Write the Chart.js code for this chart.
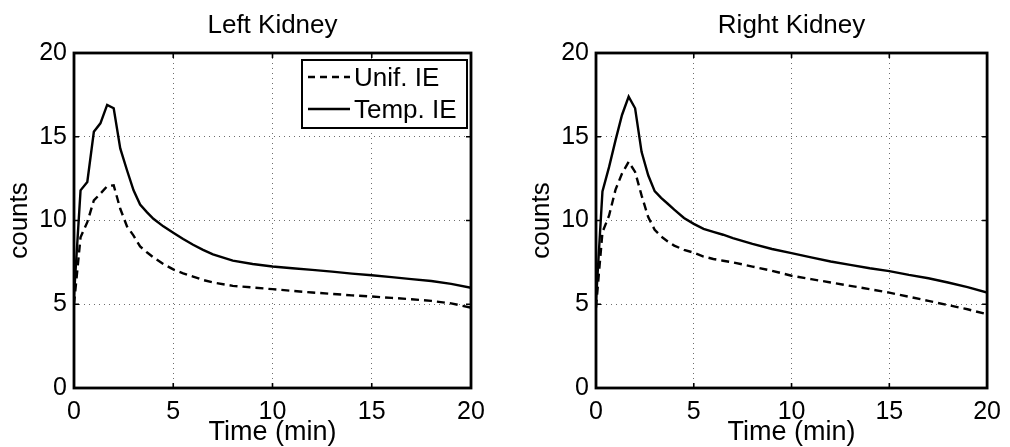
<!DOCTYPE html>
<html>
<head>
<meta charset="utf-8">
<script src="https://cdn.jsdelivr.net/npm/chart.js@4.4.1/dist/chart.umd.min.js"></script>
<style>
  html, body { margin: 0; padding: 0; background: #fff; width: 1010px; height: 447px; overflow: hidden; }
  .panel { position: absolute; top: 0; }
  canvas { display: block; }
</style>
</head>
<body>
<div class="panel" style="left:0px"><canvas id="leftKidney" width="505" height="447"></canvas></div>
<div class="panel" style="left:522px"><canvas id="rightKidney" width="488" height="447"></canvas></div>
<script>
// Frame mid-times (min)
const timeMin = [0, 0.33, 0.67, 1, 1.33, 1.67, 2, 2.33, 2.67, 3, 3.33, 3.67, 4, 4.5, 5, 5.5, 6, 6.5, 7, 8, 9, 10, 11, 12, 13, 14, 15, 16, 17, 18, 19, 20];

// Left kidney time-activity curves (counts)
const leftUnif = [5.0, 9.0, 9.9, 11.2, 11.6, 12.05, 12.1, 10.7, 9.65, 9.1, 8.45, 8.1, 7.8, 7.4, 7.08, 6.85, 6.65, 6.45, 6.3, 6.1, 6.0, 5.9, 5.8, 5.7, 5.62, 5.53, 5.46, 5.38, 5.3, 5.2, 5.05, 4.8];
const leftTemp = [5.5, 11.8, 12.3, 15.3, 15.8, 16.9, 16.7, 14.3, 13.0, 11.8, 10.95, 10.5, 10.1, 9.65, 9.27, 8.9, 8.55, 8.25, 7.98, 7.6, 7.4, 7.25, 7.15, 7.05, 6.95, 6.83, 6.73, 6.62, 6.5, 6.39, 6.22, 5.98];

// Right kidney time-activity curves (counts)
const rightUnif = [4.8, 9.3, 10.3, 11.85, 12.8, 13.5, 12.9, 11.5, 10.2, 9.45, 9.05, 8.75, 8.5, 8.25, 8.08, 7.85, 7.7, 7.6, 7.5, 7.25, 7.0, 6.7, 6.5, 6.3, 6.1, 5.9, 5.69, 5.45, 5.2, 4.95, 4.7, 4.4];
const rightTemp = [5.2, 11.74, 13.2, 14.8, 16.3, 17.4, 16.7, 14.1, 12.7, 11.75, 11.35, 11.0, 10.65, 10.15, 9.8, 9.5, 9.32, 9.15, 8.95, 8.6, 8.3, 8.05, 7.8, 7.55, 7.35, 7.15, 6.98, 6.75, 6.55, 6.3, 6.02, 5.7];

const seriesNames = ['Unif. IE', 'Temp. IE'];
const panelTitles = ['Left Kidney', 'Right Kidney'];
const xAxisTitle = 'Time (min)';
const yAxisTitle = 'counts';
const axisMin = 0;
const axisMax = 20;
const tickStep = 5;

const FONT = '"Liberation Sans", Arial, Helvetica, sans-serif';
Chart.defaults.font.family = FONT;
Chart.defaults.color = '#000';

const toPoints = (vals) => timeMin.map((t, i) => ({ x: t, y: vals[i] }));
const gridColor = (ctx) => {
  const v = ctx.tick ? ctx.tick.value : null;
  return (v === axisMin || v === axisMax) ? 'rgba(0,0,0,0)' : '#6e6e6e';
};

// Box frame with inward tick marks on all four sides
const framePlugin = {
  id: 'frame',
  afterDatasetsDraw(chart) {
    const { ctx, chartArea: a } = chart;
    const xs = chart.scales.x, ys = chart.scales.y;
    ctx.save();
    ctx.strokeStyle = '#000';
    ctx.lineWidth = 1.6;
    const len = 5;
    xs.ticks.forEach(t => {
      const p = xs.getPixelForValue(t.value);
      ctx.beginPath();
      ctx.moveTo(p, a.bottom); ctx.lineTo(p, a.bottom - len);
      ctx.moveTo(p, a.top); ctx.lineTo(p, a.top + len);
      ctx.stroke();
    });
    ys.ticks.forEach(t => {
      const p = ys.getPixelForValue(t.value);
      ctx.beginPath();
      ctx.moveTo(a.left, p); ctx.lineTo(a.left + len, p);
      ctx.moveTo(a.right, p); ctx.lineTo(a.right - len, p);
      ctx.stroke();
    });
    ctx.lineWidth = 2.8;
    ctx.strokeRect(a.left, a.top, a.right - a.left, a.bottom - a.top);
    ctx.restore();
  }
};

// Boxed legend in the upper-right corner of the plot
const boxLegendPlugin = {
  id: 'boxLegend',
  afterDraw(chart, args, opts) {
    if (!opts || !opts.show) return;
    const { ctx, chartArea: a } = chart;
    const w = 165, h = 68;
    const x0 = a.right - 4 - w, y0 = a.top + 7;
    ctx.save();
    ctx.fillStyle = '#fff';
    ctx.fillRect(x0, y0, w, h);
    ctx.strokeStyle = '#000';
    ctx.lineWidth = 2;
    ctx.strokeRect(x0, y0, w, h);
    ctx.font = '26px ' + FONT;
    ctx.fillStyle = '#000';
    ctx.textBaseline = 'middle';
    ctx.textAlign = 'left';
    chart.data.datasets.forEach((ds, i) => {
      const cy = y0 + 18 + i * 32;
      ctx.beginPath();
      ctx.lineWidth = ds.borderWidth;
      ctx.setLineDash(ds.borderDash && ds.borderDash.length ? [7, 5] : []);
      ctx.moveTo(x0 + 6, cy - 1);
      ctx.lineTo(x0 + 48, cy - 1);
      ctx.stroke();
      ctx.setLineDash([]);
      ctx.fillText(ds.label, x0 + 52, cy + 1);
    });
    ctx.restore();
  }
};

function makeChart(id, title, unif, temp, padRight, showLegend) {
  return new Chart(document.getElementById(id), {
    type: 'line',
    data: {
      datasets: [
        { label: seriesNames[0], data: toPoints(unif), borderColor: '#000', borderWidth: 2.4,
          borderDash: [8, 5], pointRadius: 0, fill: false, tension: 0 },
        { label: seriesNames[1], data: toPoints(temp), borderColor: '#000', borderWidth: 2.4,
          borderDash: [], pointRadius: 0, fill: false, tension: 0 }
      ]
    },
    options: {
      responsive: false,
      animation: false,
      devicePixelRatio: 1,
      layout: { padding: { left: 0, right: padRight, top: 0, bottom: 0 } },
      plugins: {
        legend: { display: false },
        tooltip: { enabled: false },
        title: {
          display: true, text: title, fullSize: false, color: '#000',
          font: { size: 26, weight: 'normal', lineHeight: 1 },
          padding: { top: 13, bottom: 14 }
        },
        boxLegend: { show: showLegend }
      },
      scales: {
        x: {
          type: 'linear', min: axisMin, max: axisMax,
          ticks: { stepSize: tickStep, padding: 9, maxRotation: 0, color: '#000', font: { size: 25 } },
          grid: { color: gridColor, lineWidth: 1, drawTicks: false, borderDash: [1, 4] },
          border: { display: false, dash: [1, 4] },
          title: { display: true, text: xAxisTitle, color: '#000', font: { size: 27, lineHeight: 1 },
                   padding: { top: 0, bottom: 1 } },
          afterFit: (s) => { s.height = 59; }
        },
        y: {
          min: axisMin, max: axisMax,
          ticks: { stepSize: tickStep, padding: 7, color: '#000', font: { size: 25 } },
          grid: { color: gridColor, lineWidth: 1, drawTicks: false, borderDash: [1, 4] },
          border: { display: false, dash: [1, 4] },
          title: { display: true, text: yAxisTitle, color: '#000', font: { size: 26, lineHeight: 1 },
                   padding: { top: 7, bottom: 0 } },
          afterFit: (s) => { s.width = 74; }
        }
      }
    },
    plugins: [framePlugin, boxLegendPlugin]
  });
}

makeChart('leftKidney', panelTitles[0], leftUnif, leftTemp, 34, true);
makeChart('rightKidney', panelTitles[1], rightUnif, rightTemp, 17, false);
</script>
</body>
</html>
